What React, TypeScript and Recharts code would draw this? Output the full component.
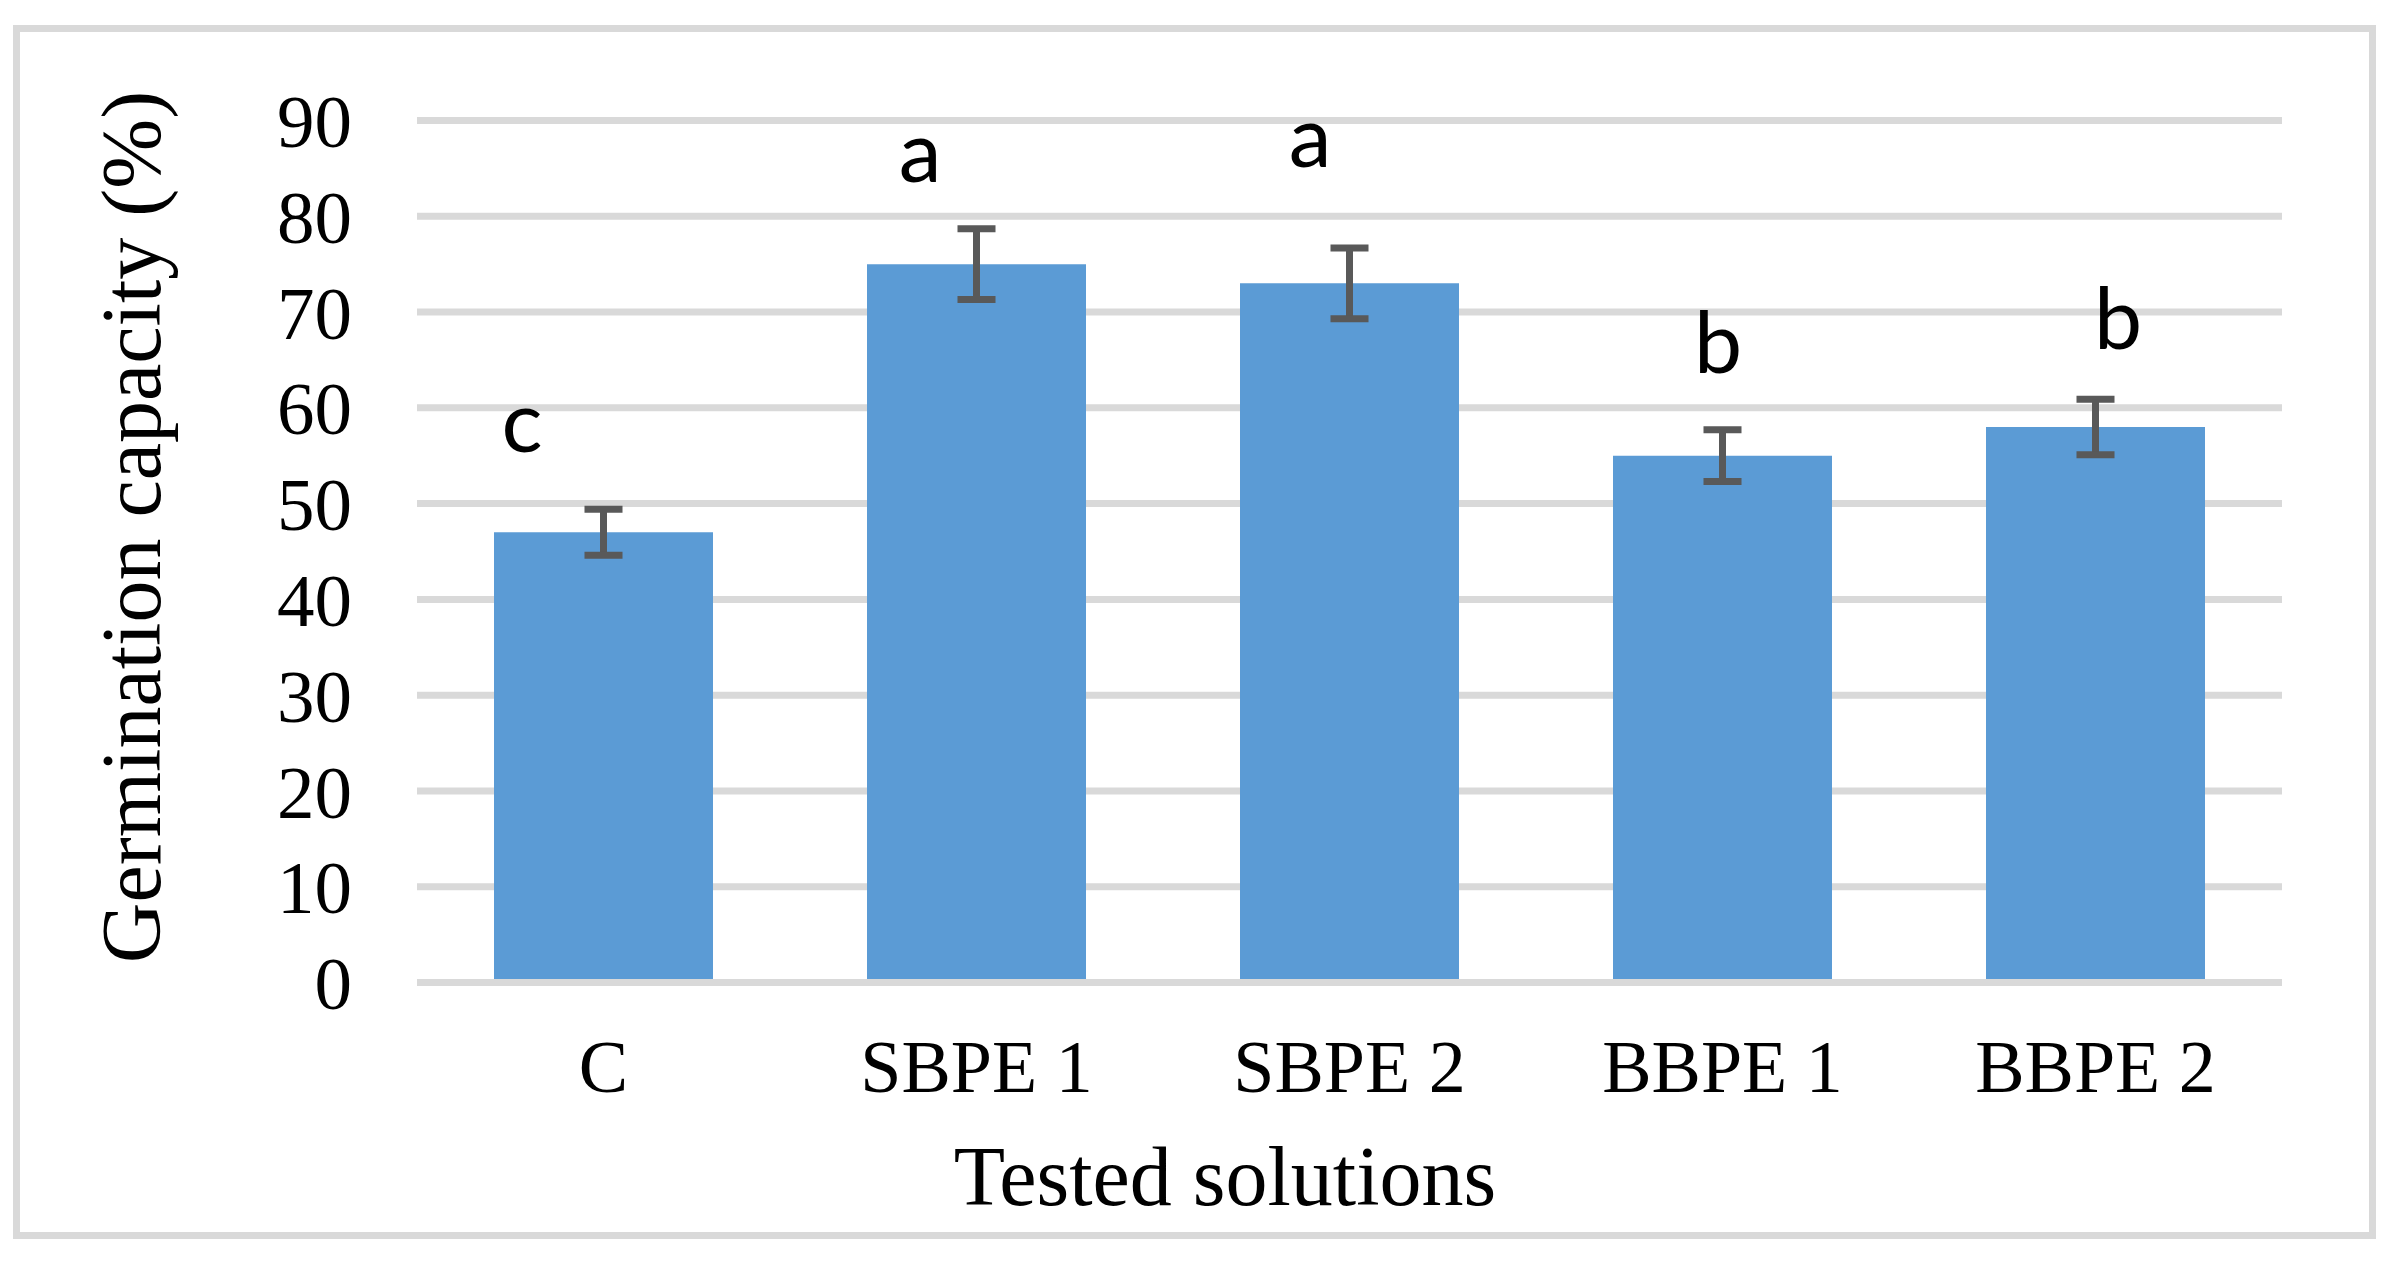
import React from 'react';
import {
  ComposedChart,
  Bar,
  ErrorBar,
  Scatter,
  XAxis,
  YAxis,
  CartesianGrid,
  Label,
} from 'recharts';

// ---- data ----
const categories = ['C', 'SBPE 1', 'SBPE 2', 'BBPE 1', 'BBPE 2'];
const germination = [47, 75, 73, 55, 58];
const errors = [2.4, 3.7, 3.7, 2.7, 2.9];
const letters = ['c', 'a', 'a', 'b', 'b'];
const letterLevel = [55.4, 83.6, 85.1, 63.6, 66.1];
const yTicks = [0, 10, 20, 30, 40, 50, 60, 70, 80, 90];

// ---- style ----
const letterDx = [-81.5, -56.5, -39.5, -4.5, 22.5];
const SERIF = '"Liberation Serif", "Times New Roman", serif';
const SANS = 'Lato, Calibri, "Open Sans", sans-serif';
const GRID = '#d9d9d9';
const BAR = '#5b9bd5';
const ERR = '#595959';

const data = categories.map((name, i) => ({
  name,
  value: germination[i],
  err: errors[i],
  letter: letters[i],
  letterY: letterLevel[i],
}));

const W = 2389;
const H = 1250;

const LetterShape = (props: any) => {
  const { cx, cy, payload } = props;
  const i = categories.indexOf(payload.name);
  return (
    <text
      x={cx + letterDx[i]}
      y={cy}
      textAnchor="middle"
      fontFamily={SANS}
      fontSize={86}
      fill="#000"
    >
      {payload.letter}
    </text>
  );
};

export default function App() {
  return (
    <div style={{ position: 'relative', width: W, height: H, background: '#fff' }}>
      <div
        style={{
          position: 'absolute',
          left: 5,
          top: 17,
          width: 2363,
          height: 1214,
          border: `7px solid ${GRID}`,
          boxSizing: 'border-box',
        }}
      />
      <div style={{ position: 'absolute', left: 0, top: 0 }}>
        <ComposedChart
          width={W}
          height={H}
          data={data}
          margin={{ top: 112.5, right: 115, left: 0, bottom: 175.5 }}
        >
          <CartesianGrid vertical={false} stroke={GRID} strokeWidth={7} />
          <XAxis
            dataKey="name"
            type="category"
            height={100}
            tickLine={false}
            tickSize={0}
            tickMargin={57}
            axisLine={{ stroke: GRID, strokeWidth: 7 }}
            tick={{ fontFamily: SERIF, fontSize: 74, fill: '#000' }}
            interval={0}
          >
            <Label
              content={(p: any) => {
                const vb = p.viewBox || { x: 409, y: 974.5 };
                return (
                  <text
                    x={vb.x + 808}
                    y={vb.y + 222.5}
                    textAnchor="middle"
                    fontFamily={SERIF}
                    fontSize={84}
                    fill="#000"
                  >
                    Tested solutions
                  </text>
                );
              }}
            />
          </XAxis>
          <YAxis
            type="number"
            domain={[0, 90]}
            ticks={yTicks}
            interval={0}
            width={409}
            allowDataOverflow
            axisLine={false}
            tickLine={false}
            tickSize={0}
            tickMargin={65}
            tick={{ fontFamily: SERIF, fontSize: 75, fill: '#000' }}
          >
            <Label
              content={(p: any) => {
                const vb = p.viewBox || { x: 0, y: 112.5 };
                const x = vb.x + 152;
                const y = 519;
                return (
                  <text
                    x={x}
                    y={y}
                    transform={`rotate(-90, ${x}, ${y})`}
                    textAnchor="middle"
                    fontFamily={SERIF}
                    fontSize={84}
                    fill="#000"
                  >
                    Germination capacity (%)
                  </text>
                );
              }}
            />
          </YAxis>
          <Bar dataKey="value" fill={BAR} barSize={219} isAnimationActive={false}>
            <ErrorBar
              dataKey="err"
              direction="y"
              width={19}
              stroke={ERR}
              strokeWidth={7}
              isAnimationActive={false}
            />
          </Bar>
          <Scatter
            dataKey="letterY"
            shape={LetterShape}
            isAnimationActive={false}
            legendType="none"
          />
        </ComposedChart>
      </div>
    </div>
  );
}
